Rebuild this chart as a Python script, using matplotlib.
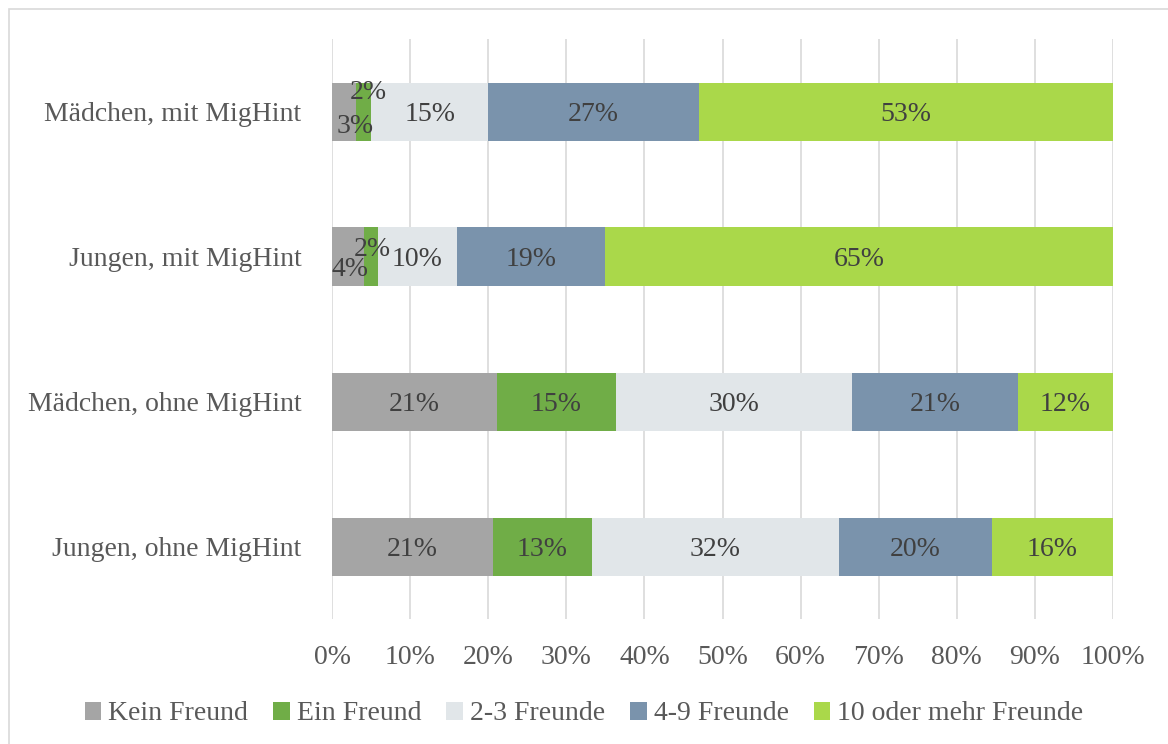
import matplotlib.pyplot as plt
from matplotlib.patches import Rectangle

plt.rcParams['font.family'] = ['Liberation Serif', 'DejaVu Serif']

groups = ['Mädchen, mit MigHint', 'Jungen, mit MigHint',
          'Mädchen, ohne MigHint', 'Jungen, ohne MigHint']
series = ['Kein Freund', 'Ein Freund', '2-3 Freunde', '4-9 Freunde', '10 oder mehr Freunde']
colors = ['#A5A5A5', '#70AD47', '#E1E6E9', '#7A93AC', '#AAD84A']

# shares in percent, one list per series (same order as groups)
kein = [3.1, 4.1, 21.1, 20.6]
ein = [1.9, 1.8, 15.2, 12.7]
zwei_drei = [15.0, 10.1, 30.3, 31.6]
vier_neun = [27.0, 19.0, 21.2, 19.6]
zehn_plus = [53.0, 65.0, 12.2, 15.5]
values = [kein, ein, zwei_drei, vier_neun, zehn_plus]

# hand-placed label offsets (x in %, y in bar units) for the tiny segments
nudge = {(0, 0): (1.4, -0.08), (1, 0): (0.6, 0.15),
         (0, 1): (0.2, -0.07), (1, 1): (0.2, 0.07)}

fig = plt.figure(figsize=(11.68, 7.44), dpi=100)
ax = fig.add_axes([332 / 1168, 125 / 744, 781 / 1168, 580 / 744])

# chart frame
fig.patches.append(Rectangle((9 / 1168, -0.05), 1.2, 735 / 744 + 0.05,
                             transform=fig.transFigure, fill=False,
                             edgecolor='#D9D9D9', linewidth=1.2))

ypos = list(range(len(groups)))[::-1]
left = [0.0] * len(groups)
for s, (name, vals, col) in enumerate(zip(series, values, colors)):
    ax.barh(ypos, vals, left=left, height=0.4, color=col, label=name, zorder=2)
    for i, v in enumerate(vals):
        dx, dy = nudge.get((s, i), (0, 0))
        ax.text(left[i] + v / 2 + dx, ypos[i] + dy, f'{v:.0f}%',
                ha='center', va='center_baseline', fontsize=20,
                color='#404040', zorder=3)
    left = [a + b for a, b in zip(left, vals)]

ax.set_xlim(0, 100)
ax.set_ylim(-0.5, 3.5)
ax.set_yticks(ypos)
ax.set_yticklabels(groups)
ax.set_xticks(range(0, 101, 10))
ax.set_xticklabels([f'{t}%' for t in range(0, 101, 10)])
ax.tick_params(axis='both', length=0, labelsize=20, labelcolor='#595959')
ax.tick_params(axis='x', pad=19)
ax.tick_params(axis='y', pad=22)
ax.grid(axis='x', color='#D9D9D9', linewidth=1.2, zorder=0)
for sp in ax.spines.values():
    sp.set_visible(False)

fig.legend(loc='center', bbox_to_anchor=(0.5, 30 / 744), ncol=5, frameon=False,
           fontsize=20, labelcolor='#595959', handlelength=0.6, handleheight=0.6,
           handletextpad=0.25, columnspacing=0.9)

fig.savefig('out.png', dpi=100)
